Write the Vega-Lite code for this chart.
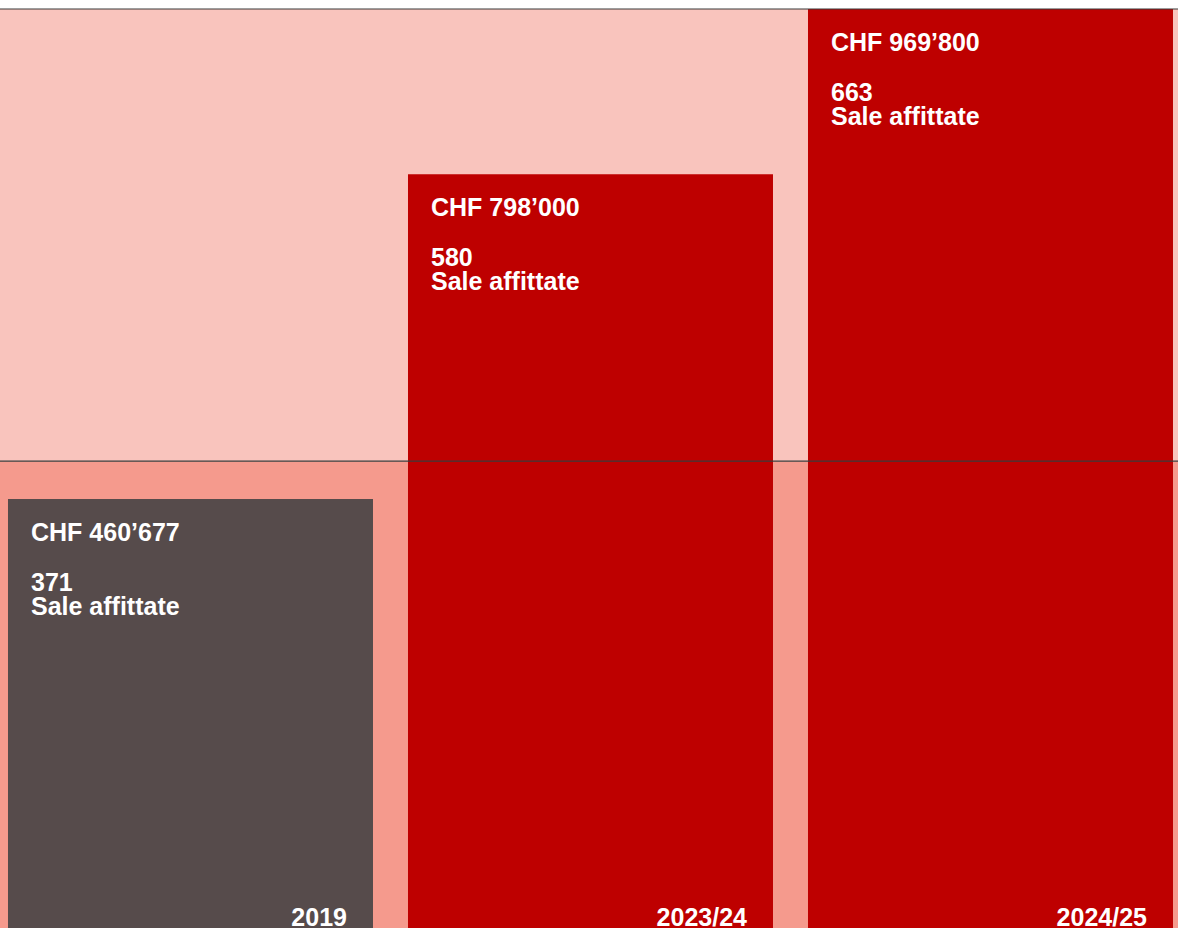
{
  "$schema": "https://vega.github.io/schema/vega-lite/v6.json",
  "width": 1178,
  "height": 919,
  "autosize": {"type": "none"},
  "padding": {"top": 9, "left": 0, "right": 0, "bottom": 0},
  "background": "#FFFFFF",
  "config": {"view": {"stroke": null}, "axis": {"disable": true}, "legend": {"disable": true}},
  "datasets": {
    "bars": [
      {"year": "2019", "chf": 460677, "label": "CHF 460’677", "count": "371", "kind": "past"},
      {"year": "2023/24", "chf": 798000, "label": "CHF 798’000", "count": "580", "kind": "recent"},
      {"year": "2024/25", "chf": 969800, "label": "CHF 969’800", "count": "663", "kind": "recent"}
    ],
    "bands": [
      {"band": "low", "from": 0, "to": 500000},
      {"band": "high", "from": 500000, "to": 969800}
    ]
  },
  "layer": [
    {
      "data": {"name": "bands"},
      "mark": {"type": "rect", "clip": true},
      "encoding": {
        "y": {"field": "from", "type": "quantitative", "scale": {"domain": [15000, 969800], "zero": false, "nice": false}},
        "y2": {"field": "to"},
        "color": {"field": "band", "type": "nominal", "scale": {"domain": ["low", "high"], "range": ["#F59A8D", "#F9C4BD"]}, "legend": null}
      }
    },
    {
      "data": {"name": "bars"},
      "mark": {"type": "bar", "clip": true},
      "encoding": {
        "x": {"field": "year", "type": "nominal", "scale": {"domain": ["2019", "2023/24", "2024/25"], "paddingInner": 0.0875, "paddingOuter": 0.01625, "align": 0.615}, "axis": null},
        "y": {"field": "chf", "type": "quantitative"},
        "y2": {"datum": 0},
        "fill": {"field": "kind", "type": "nominal", "scale": {"domain": ["past", "recent"], "range": ["#564B4B", "#BE0000"]}, "legend": null}
      }
    },
    {
      "data": {"name": "bands"},
      "mark": {"type": "rule", "color": "#3A3A3A", "strokeWidth": 1.2},
      "encoding": {"y": {"field": "to", "type": "quantitative"}}
    },
    {
      "data": {"name": "bars"},
      "mark": {"type": "text", "align": "left", "baseline": "alphabetic", "dx": 23, "dy": 42, "font": "Liberation Sans", "fontWeight": "bold", "fontSize": 25, "color": "#FFFFFF"},
      "encoding": {
        "x": {"field": "year", "type": "nominal", "bandPosition": 0},
        "y": {"field": "chf", "type": "quantitative"},
        "text": {"field": "label"}
      }
    },
    {
      "data": {"name": "bars"},
      "mark": {"type": "text", "align": "left", "baseline": "alphabetic", "dx": 23, "dy": 92, "font": "Liberation Sans", "fontWeight": "bold", "fontSize": 25, "color": "#FFFFFF"},
      "encoding": {
        "x": {"field": "year", "type": "nominal", "bandPosition": 0},
        "y": {"field": "chf", "type": "quantitative"},
        "text": {"field": "count"}
      }
    },
    {
      "data": {"name": "bars"},
      "mark": {"type": "text", "align": "left", "baseline": "alphabetic", "dx": 23, "dy": 116, "font": "Liberation Sans", "fontWeight": "bold", "fontSize": 25, "color": "#FFFFFF"},
      "encoding": {
        "x": {"field": "year", "type": "nominal", "bandPosition": 0},
        "y": {"field": "chf", "type": "quantitative"},
        "text": {"value": "Sale affittate"}
      }
    },
    {
      "data": {"name": "bars"},
      "mark": {"type": "text", "align": "right", "baseline": "alphabetic", "dx": -26, "dy": -16, "font": "Liberation Sans", "fontWeight": "bold", "fontSize": 25, "color": "#FFFFFF"},
      "encoding": {
        "x": {"field": "year", "type": "nominal", "bandPosition": 1},
        "y": {"datum": 0, "type": "quantitative"},
        "text": {"field": "year"}
      }
    }
  ]
}
